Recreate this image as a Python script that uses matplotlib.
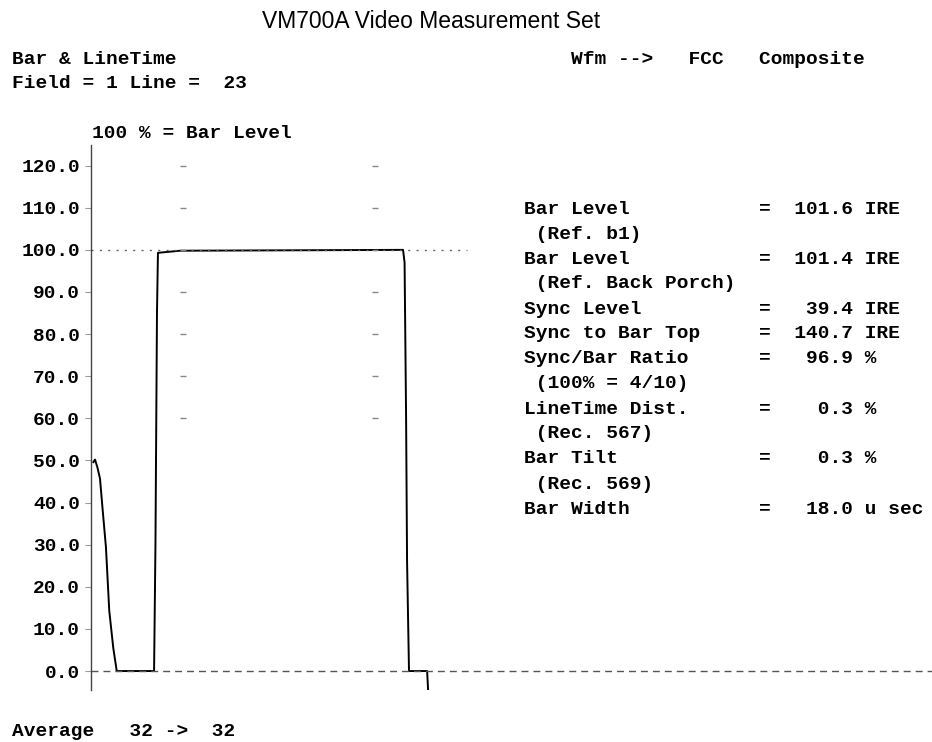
import matplotlib
matplotlib.use('Agg')
import matplotlib.pyplot as plt

W, H, DPI = 932, 742, 100
MONO = 'Liberation Mono'
SANS = 'Liberation Sans'

# waveform: time (u sec from left edge of display) and level (% of bar)
wfm_time = [0.17, 0.29, 0.46, 0.65, 0.85, 1.08, 1.32, 1.61, 1.86, 4.56, 4.66,
            4.77, 4.84, 6.44, 22.56, 22.67, 22.78, 22.85, 22.99, 24.30, 24.37]
wfm_level = [49.6, 50.2, 48.4, 45.7, 38.0, 29.4, 14.3, 5.5, 0.0, 0.0, 30.0,
             85.0, 99.3, 99.8, 100.0, 97.0, 60.0, 26.0, 0.0, 0.0, -4.5]

y_ticks = [0, 10, 20, 30, 40, 50, 60, 70, 80, 90, 100, 110, 120]
graticule_times = [6.65, 20.5]
graticule_levels = [60, 70, 80, 90, 100, 110, 120]
bar_ref_end = 27.2

meas_labels = ['Bar Level', 'Bar Level', 'Sync Level', 'Sync to Bar Top',
               'Sync/Bar Ratio', 'LineTime Dist.', 'Bar Tilt', 'Bar Width']
meas_notes = ['(Ref. b1)', '(Ref. Back Porch)', '', '', '(100% = 4/10)',
              '(Rec. 567)', '(Rec. 569)', '']
meas_values = [101.6, 101.4, 39.4, 140.7, 96.9, 0.3, 0.3, 18.0]
meas_units = ['IRE', 'IRE', 'IRE', 'IRE', '%', '%', '%', 'u sec']


def fx(px):
    return px / W


def fy(py):
    return 1 - py / H


fig = plt.figure(figsize=(W / DPI, H / DPI), dpi=DPI)
ax = fig.add_axes([fx(91), fy(690), fx(932) - fx(91), fy(145) - fy(690)])

ax.plot(wfm_time, wfm_level, color='black', linewidth=1.4)
ax.axhline(0, color='#555555', linewidth=1.0, dashes=(5, 3.6))
ax.plot([0, bar_ref_end], [100, 100], color='#666666', linewidth=1.0,
        dashes=(1.5, 4.5))
for t in graticule_times:
    ax.plot([t] * len(graticule_levels), graticule_levels, linestyle='none',
            marker='_', markersize=5, markeredgewidth=1.0, color='#888888')

ax.set_xlim(0, 60.8)
ax.set_ylim(-4.5, 124.9)
ax.set_yticks(y_ticks)
ax.set_yticklabels(['{:.1f}'.format(v) for v in y_ticks],
                   fontfamily=MONO, fontweight='bold', fontsize=14)
ax.tick_params(axis='y', length=4.3, width=0.8, color='#999999', pad=3.6)
ax.set_xticks([])
for side in ['top', 'right', 'bottom']:
    ax.spines[side].set_visible(False)
ax.spines['left'].set_color('#444444')
ax.spines['left'].set_linewidth(1.0)

mono = dict(fontfamily=MONO, fontweight='bold', fontsize=14,
            va='center', ha='left')
fig.text(fx(431), fy(22), 'VM700A Video Measurement Set', fontfamily=SANS,
         fontsize=16.5, ha='center', va='center')
fig.text(fx(12), fy(60), 'Bar & LineTime', **mono)
fig.text(fx(12), fy(83), 'Field = 1 Line =  23', **mono)
fig.text(fx(571), fy(60), 'Wfm -->   FCC   Composite', **mono)
fig.text(fx(92), fy(133), '100 % = Bar Level', **mono)
fig.text(fx(12), fy(732), 'Average   32 ->  32', **mono)

lines = []
for label, note, value, unit in zip(meas_labels, meas_notes, meas_values,
                                    meas_units):
    lines.append('{:<20}=  {:>5.1f} {}'.format(label, value, unit))
    if note:
        lines.append(' ' + note)
for i, line in enumerate(lines):
    fig.text(fx(524), fy(209 + i * 25), line, **mono)

fig.savefig('out.png', dpi=DPI)
plt.close(fig)
